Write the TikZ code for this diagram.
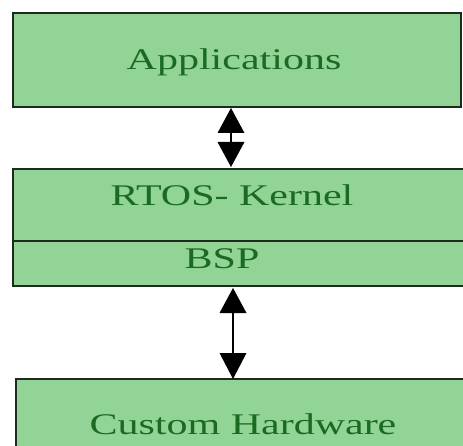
\documentclass[tikz,border=0pt]{standalone}
\usepackage{fontspec}
\setmainfont{Liberation Serif}
\usepackage{graphicx}
\definecolor{boxfill}{HTML}{91D495}
\definecolor{boxtext}{HTML}{1B6A22}
\definecolor{boxline}{HTML}{1E2A1E}
\begin{document}
\begin{tikzpicture}[x=1pt,y=-1pt,
  layer/.style={draw=boxline, line width=1.4pt, fill=boxfill},
  lbl/.style={text=boxtext, inner sep=0pt, font=\fontsize{30}{36}\selectfont},
  biarrow/.style={line width=1.8pt, black},
  headup/.style={fill=black, draw=none},
]
\useasboundingbox (0,0) rectangle (463,446);
% boxes
\draw[layer] (13,13) rectangle (461,107);
\draw[layer] (13,169) rectangle (470,286);
\draw[layer] (13,241) -- (470,241);
\draw[layer] (16,379) rectangle (475,460);
% labels
\node[lbl] (app) at (234,62) {\scalebox{1.4}[1]{Applications}};
\node[lbl] (rtos) at (232,195) {\scalebox{1.4}[1]{RTOS- Kernel}};
\node[lbl] (bsp) at (222,259) {\scalebox{1.4}[1]{BSP}};
\node[lbl] (hw) at (243,424) {\scalebox{1.4}[1]{Custom Hardware}};
% arrow 1
\coordinate (a1t) at (231,108);
\coordinate (a1b) at (231,167);
\draw[biarrow] (231,130) -- (231,145);
\fill[headup] (a1t) -- (244.5,133) -- (217.5,133) -- cycle;
\fill[headup] (a1b) -- (244.5,142) -- (217.5,142) -- cycle;
% arrow 2
\coordinate (a2t) at (233,288);
\coordinate (a2b) at (233,379);
\draw[biarrow] (233,310) -- (233,356);
\fill[headup] (a2t) -- (246.5,313) -- (219.5,313) -- cycle;
\fill[headup] (a2b) -- (246.5,353) -- (219.5,353) -- cycle;
\end{tikzpicture}
\end{document}
